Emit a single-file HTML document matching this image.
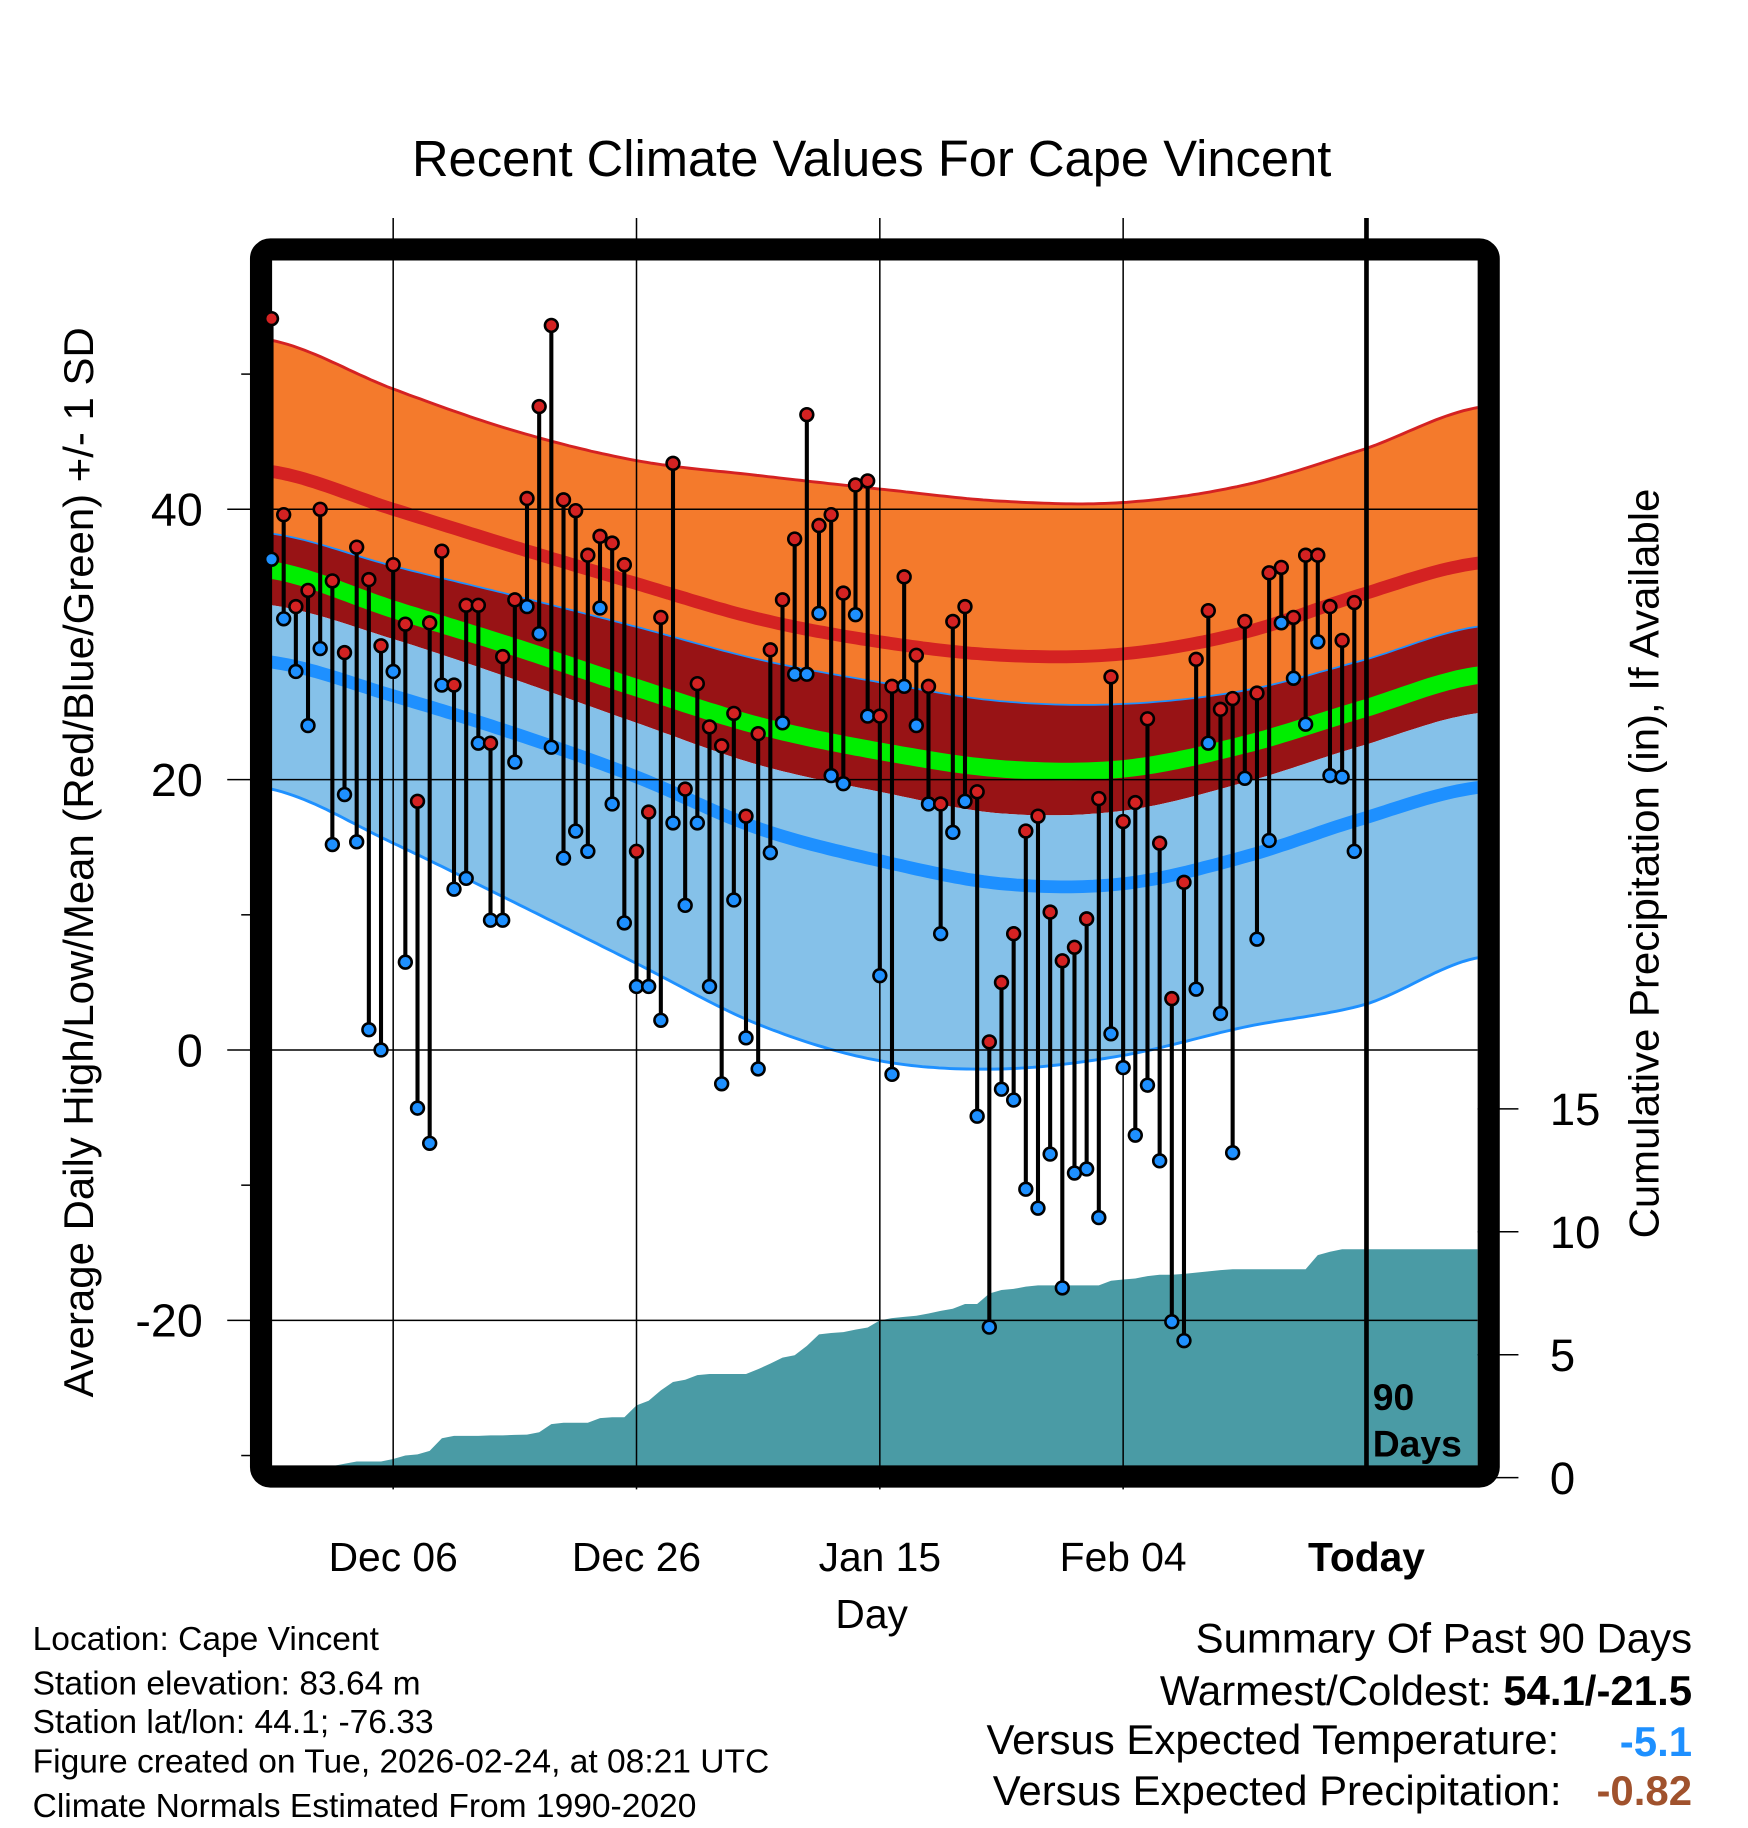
<!DOCTYPE html>
<html><head><meta charset="utf-8"><style>
html,body{margin:0;padding:0;background:#fff}
svg{display:block}
text{font-family:"Liberation Sans",sans-serif}
</style></head><body>
<svg id="chart" width="1748" height="1828" viewBox="0 0 1500 1568.6" xmlns="http://www.w3.org/2000/svg"></svg>
<script>
// ---- data ----
const normDays = [0,10,20,30,40,50,60,70,80,90,99];
const highUpper = [52.5,48.9,45.8,43.6,42.5,41.5,40.6,40.5,41.8,44.5,47.5];
const highMean  = [42.8,40.0,37.2,34.5,31.9,30.2,29.2,29.3,30.9,33.8,36.0];
const lowUpper  = [38.2,35.8,33.6,31.3,28.9,27.2,25.8,25.6,26.6,28.9,31.3];
const meanTemp  = [35.5,32.6,29.8,26.8,24.0,22.1,20.8,20.8,22.6,25.3,27.7];
const highLower = [32.9,30.4,27.4,24.2,21.1,19.1,17.5,17.7,19.8,22.6,24.9];
const lowMean   = [28.7,26.2,23.4,20.2,16.4,14.0,12.3,12.3,14.3,17.2,19.4];
const lowLower  = [19.3,15.3,10.9,6.4,1.9,-0.8,-1.4,-0.4,1.7,3.4,6.8];
const dailyHigh = [54.1,39.6,32.8,34.0,40.0,34.7,29.4,37.2,34.8,29.9,35.9,31.5,18.4,31.6,36.9,27.0,32.9,32.9,22.7,29.1,33.3,40.8,47.6,53.6,40.7,39.9,36.6,38.0,37.5,35.9,14.7,17.6,32.0,43.4,19.3,27.1,23.9,22.5,24.9,17.3,23.4,29.6,33.3,37.8,47.0,38.8,39.6,33.8,41.8,42.1,24.7,26.9,35.0,29.2,26.9,18.2,31.7,32.8,19.1,0.6,5.0,8.6,16.2,17.3,10.2,6.6,7.6,9.7,18.6,27.6,16.9,18.3,24.5,15.3,3.8,12.4,28.9,32.5,25.2,26.0,31.7,26.4,35.3,35.7,32.0,36.6,36.6,32.8,30.3,33.1];
const dailyLow = [36.3,31.9,28.0,24.0,29.7,15.2,18.9,15.4,1.5,0.0,28.0,6.5,-4.3,-6.9,27.0,11.9,12.7,22.7,9.6,9.6,21.3,32.8,30.8,22.4,14.2,16.2,14.7,32.7,18.2,9.4,4.7,4.7,2.2,16.8,10.7,16.8,4.7,-2.5,11.1,0.9,-1.4,14.6,24.2,27.8,27.8,32.3,20.3,19.7,32.2,24.7,5.5,-1.8,26.9,24.0,18.2,8.6,16.1,18.4,-4.9,-20.5,-2.9,-3.7,-10.3,-11.7,-7.7,-17.6,-9.1,-8.8,-12.4,1.2,-1.3,-6.3,-2.6,-8.2,-20.1,-21.5,4.5,22.7,2.7,-7.6,20.1,8.2,15.5,31.6,27.5,24.1,30.2,20.3,20.2,14.7];
const cumPrecip = [0,0,0,0,0,0.47,0.57,0.66,0.66,0.66,0.76,0.9,0.95,1.09,1.6,1.7,1.7,1.7,1.72,1.72,1.74,1.75,1.85,2.18,2.23,2.23,2.23,2.42,2.46,2.46,2.94,3.13,3.55,3.89,3.98,4.17,4.22,4.22,4.22,4.22,4.41,4.64,4.88,4.98,5.36,5.83,5.88,5.92,6.02,6.11,6.4,6.49,6.54,6.59,6.68,6.78,6.87,7.06,7.06,7.49,7.63,7.68,7.77,7.82,7.82,7.82,7.82,7.82,7.82,8.01,8.06,8.1,8.2,8.25,8.25,8.29,8.34,8.39,8.44,8.48,8.48,8.48,8.48,8.48,8.48,8.48,9.05,9.19,9.29,9.29];
const tempTicks = [40,20,0,-20];
const minorTicks = [50,10,-10,-30];
const precipTicks = [0,5,10,15];
const dateDays = [10,30,50,70,90];
const dateLabels = ["Dec 06","Dec 26","Jan 15","Feb 04","Today"];

// ---- axes ----
const PL=230, PR=1268, PT=222, PB=1260;
const xDay = d => 233 + 10.44*d;
const yT = v => 901 - 11.6*v;
const yP = p => 1268 - 21.1*p;

const NS="http://www.w3.org/2000/svg";
const svg=document.getElementById('chart');
function mk(tag, attrs, parent){const e=document.createElementNS(NS,tag);for(const k in attrs)e.setAttribute(k,attrs[k]);(parent||svg).appendChild(e);return e;}

function interp(arr, d){
  let i=0; while(i<normDays.length-2 && d>normDays[i+1]) i++;
  const x0=normDays[i], x1=normDays[i+1];
  const t=(d-x0)/(x1-x0);
  const p0=arr[Math.max(0,i-1)], p1=arr[i], p2=arr[i+1], p3=arr[Math.min(arr.length-1,i+2)];
  const t2=t*t,t3=t2*t;
  return 0.5*((2*p1)+(-p0+p2)*t+(2*p0-5*p1+4*p2-p3)*t2+(-p0+3*p1-3*p2+p3)*t3);
}
const dStart=(PL-2-233)/10.44, dEnd=(PR+2-233)/10.44;
function curvePts(arr){const pts=[];const n=220;for(let k=0;k<=n;k++){const d=dStart+(dEnd-dStart)*k/n;pts.push([xDay(d),yT(interp(arr,d))]);}return pts;}
function band(a,b,fill,name){
  const pa=curvePts(a), pb=curvePts(b).reverse();
  const p=mk('path',{d:'M'+pa.concat(pb).map(q=>q[0].toFixed(1)+','+q[1].toFixed(1)).join('L')+'Z',fill:fill,'clip-path':'url(#clip)'});
  
  
}
function line(a,color,w,name){
  const p=mk('path',{d:'M'+curvePts(a).map(q=>q[0].toFixed(1)+','+q[1].toFixed(1)).join('L'),fill:'none',stroke:color,'stroke-width':w,'clip-path':'url(#clip)'});
  
  
}

const defs=mk('defs',{});
const cp=mk('clipPath',{id:'clip'},defs);
mk('rect',{x:PL,y:PT,width:PR-PL,height:PB-PT},cp);

// title
const title=mk('text',{x:748,y:151,'font-size':43.5,'text-anchor':'middle'});
title.textContent='Recent Climate Values For Cape Vincent';



// bands
band(highUpper,lowUpper,'#F47A2C','high-sd-band');
band(lowUpper,highLower,'#981315','overlap-band');
band(highLower,lowLower,'#85C1E9','low-sd-band');
line(highUpper,'#D42222',2.5,'high-upper-line');
line(lowUpper,'#1E90FF',1.5,'low-upper-line');
line(lowLower,'#1E90FF',2.5,'low-lower-line');
line(highMean,'#D42222',11,'mean-high-line');
line(meanTemp,'#00EE00',15,'mean-temp-line');
line(lowMean,'#1E90FF',11,'mean-low-line');

// precip area
{
  let d='M'+xDay(0)+','+yP(0);
  cumPrecip.forEach((p,i)=>{d+='L'+xDay(i).toFixed(1)+','+yP(p).toFixed(1);});
  d+='L'+PR+','+yP(cumPrecip[cumPrecip.length-1]).toFixed(1)+'L'+PR+','+yP(0)+'L'+PL+','+yP(0)+'Z';
  const a=mk('path',{d:d,fill:'#4A9BA5','clip-path':'url(#clip)'});
  
  
}

// gridlines
tempTicks.forEach(v=>{
  const g=mk('line',{x1:195,x2:PR,y1:yT(v),y2:yT(v),stroke:'#000','stroke-width':1.3});
  
  
  const t=mk('text',{x:174,y:yT(v)+14,'font-size':40,'text-anchor':'end'});
  t.textContent=v;
  
  
});
minorTicks.forEach(v=>{
  const g=mk('line',{x1:207,x2:220,y1:yT(v),y2:yT(v),stroke:'#000','stroke-width':1.3});
  
  
});
dateDays.forEach((d,i)=>{
  if(i<4){
    const g=mk('line',{x1:xDay(d),x2:xDay(d),y1:187,y2:1278,stroke:'#000','stroke-width':1.3});
    
    
  }
  const t=mk('text',{x:xDay(d),y:1348,'font-size':35,'text-anchor':'middle','font-weight':i==4?'bold':'normal'});
  t.textContent=dateLabels[i];
  
  
});
precipTicks.forEach(p=>{
  const g=mk('line',{x1:PR,x2:1303,y1:yP(p),y2:yP(p),stroke:'#000','stroke-width':1.3});
  
  
  const t=mk('text',{x:1330,y:yP(p)+14,'font-size':39});
  t.textContent=p;
  
  
});

// frame
const fr=mk('rect',{x:224,y:214,width:1053.5,height:1053,rx:8,fill:'none',stroke:'#000','stroke-width':19});



// today line
{
  const tl=mk('line',{x1:xDay(90),x2:xDay(90),y1:187,y2:1266,stroke:'#000','stroke-width':4});
  
  
  const t1=mk('text',{x:1178,y:1210,'font-size':32,'font-weight':'bold'});t1.textContent='90';
  
  
  const t2=mk('text',{x:1178,y:1250,'font-size':32,'font-weight':'bold'});t2.textContent='Days';
  
  
}

// daily stems and markers
dailyHigh.forEach((h,i)=>{
  const x=xDay(i);
  const s=mk('line',{x1:x,x2:x,y1:yT(h),y2:yT(dailyLow[i]),stroke:'#000','stroke-width':3.5});
  
  
});
dailyHigh.forEach((h,i)=>{
  const x=xDay(i);
  const c1=mk('circle',{cx:x,cy:yT(h),r:5.5,fill:'#D42222',stroke:'#000','stroke-width':2.2});
  
  
  const c2=mk('circle',{cx:x,cy:yT(dailyLow[i]),r:5.5,fill:'#1E90FF',stroke:'#000','stroke-width':2.2});
  
  
});

// axis titles
{
  const yl=mk('text',{x:0,y:0,'font-size':36,'text-anchor':'middle',transform:'translate(80,740) rotate(-90)'});
  yl.textContent='Average Daily High/Low/Mean (Red/Blue/Green) +/- 1 SD';
  
  
  const yr=mk('text',{x:0,y:0,'font-size':36,'text-anchor':'middle',transform:'translate(1423,741) rotate(-90)'});
  yr.textContent='Cumulative Precipitation (in), If Available';
  
  
  const xl=mk('text',{x:748,y:1397,'font-size':35,'text-anchor':'middle'});
  xl.textContent='Day';
  
  
}

// footer info
const infoLines=['Location: Cape Vincent','Station elevation: 83.64 m','Station lat/lon: 44.1; -76.33','Figure created on Tue, 2026-02-24, at 08:21 UTC','Climate Normals Estimated From 1990-2020'];
const infoY=[1416,1454,1487,1521,1559];
infoLines.forEach((s,i)=>{
  const t=mk('text',{x:28,y:infoY[i],'font-size':28.8});
  t.textContent=s;
  
  
});
{
  const s1=mk('text',{x:1452,y:1418,'font-size':36,'text-anchor':'end'});
  s1.textContent='Summary Of Past 90 Days';
  
  
  const s2=mk('text',{x:1452,y:1463,'font-size':36,'text-anchor':'end'});
  s2.innerHTML='Warmest/Coldest: <tspan font-weight="bold">54.1/-21.5</tspan>';
  
  
  const s3=mk('text',{x:1338,y:1505,'font-size':36,'text-anchor':'end'});
  s3.textContent='Versus Expected Temperature:';
  
  
  const s4=mk('text',{x:1452,y:1507,'font-size':36,'text-anchor':'end','font-weight':'bold',fill:'#1E90FF'});
  s4.textContent='-5.1';
  
  
  const s5=mk('text',{x:1340,y:1549,'font-size':36,'text-anchor':'end'});
  s5.textContent='Versus Expected Precipitation:';
  
  
  const s6=mk('text',{x:1452,y:1549,'font-size':36,'text-anchor':'end','font-weight':'bold',fill:'#A0522D'});
  s6.textContent='-0.82';
  
  
}
</script>
</body></html>
